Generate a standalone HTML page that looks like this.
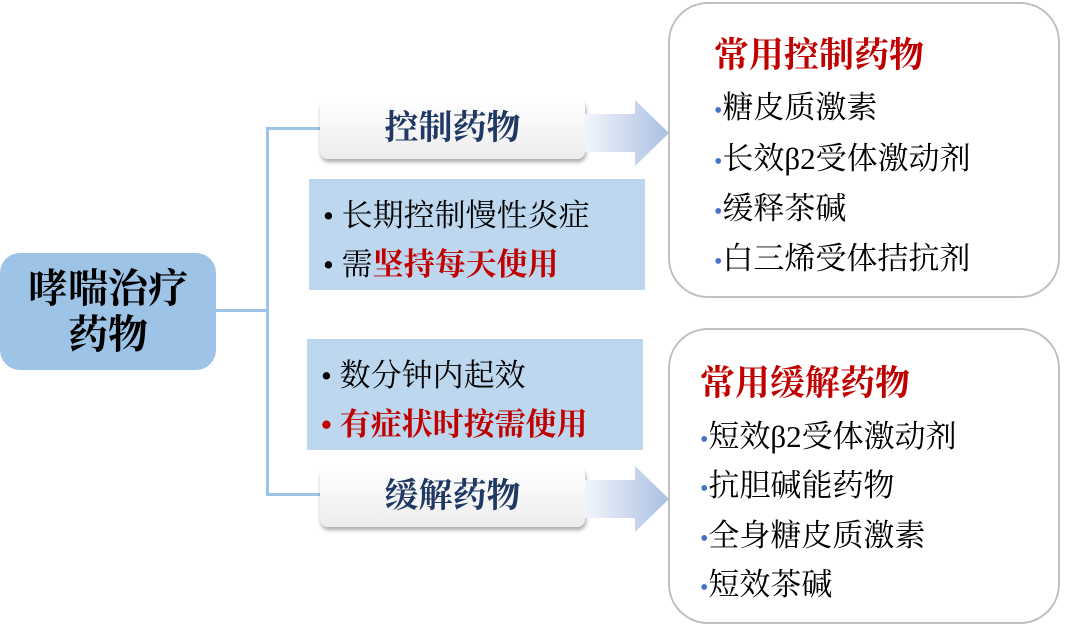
<!DOCTYPE html>
<html><head><meta charset="utf-8"><style>
body{margin:0;width:1068px;height:626px;background:#fff;position:relative;overflow:hidden;font-family:"Liberation Serif","Noto Serif CJK SC",serif;}
.a{position:absolute;}
.root{left:0;top:253px;width:216px;height:117px;background:#9dc3e6;border-radius:20px;color:#000;font-weight:bold;font-size:40px;line-height:46px;text-align:center;display:flex;align-items:center;justify-content:center;}
.ln{background:#9dc3e6;}
.btn{width:265px;height:60px;border-radius:8px;background:linear-gradient(#fff,#ececec);box-shadow:1px 3px 4px rgba(0,0,0,.35);color:#1f3864;font-weight:bold;font-size:34px;text-align:center;line-height:60px;}
.bl{background:#bdd7ee;width:336px;height:111px;font-size:31px;}
.bl div{position:absolute;left:14px;white-space:nowrap;line-height:36px;}
.r{color:#c00000;}
.card{left:668px;width:388px;height:292px;border:2px solid #bfbfbf;border-radius:40px;font-size:31px;}
.card div{position:absolute;left:44px;white-space:nowrap;line-height:36px;}
.card .t{color:#c00000;font-weight:bold;font-size:35px;}
.dot{color:#4472c4;font-size:24px;}
</style></head><body>
<div class="a root">哮喘治疗<br>药物</div>
<div class="a ln" style="left:216px;top:309px;width:53px;height:3px"></div>
<div class="a ln" style="left:266px;top:127px;width:3px;height:369px"></div>
<div class="a ln" style="left:266px;top:127px;width:56px;height:3px"></div>
<div class="a ln" style="left:266px;top:493px;width:56px;height:3px"></div>
<div class="a btn" style="left:320px;top:99px">控制药物</div>
<div class="a btn" style="left:320px;top:467px">缓解药物</div>
<svg class="a" style="left:585px;top:98px" width="86" height="70"><defs><linearGradient id="g"><stop offset="0" stop-color="#f2f5fb"/><stop offset="1" stop-color="#aabfe3"/></linearGradient></defs><polygon points="0,16 50,16 50,2 84,35 50,68 50,54 0,54" fill="url(#g)"/></svg>
<svg class="a" style="left:585px;top:464px" width="86" height="70"><polygon points="0,16 50,16 50,2 84,35 50,68 50,54 0,54" fill="url(#g)"/></svg>
<div class="a bl" style="left:309px;top:179px"><div style="top:19px">• 长期控制慢性炎症</div><div style="top:68px">• 需<span class="r" style="font-weight:bold">坚持每天使用</span></div></div>
<div class="a bl" style="left:307px;top:339px"><div style="top:19px">• 数分钟内起效</div><div class="r" style="top:68px;font-weight:bold">• 有症状时按需使用</div></div>
<div class="a card" style="top:2px">
<div class="t" style="top:34px">常用控制药物</div>
<div style="top:86px;left:44px"><span class="dot">•</span>糖皮质激素</div>
<div style="top:137px"><span class="dot">•</span>长效β2受体激动剂</div>
<div style="top:187px"><span class="dot">•</span>缓释茶碱</div>
<div style="top:237px"><span class="dot">•</span>白三烯受体拮抗剂</div>
</div>
<div class="a card" style="top:328px">
<div class="t" style="top:36px;left:30px">常用缓解药物</div>
<div style="top:89px;left:30px"><span class="dot">•</span>短效β2受体激动剂</div>
<div style="top:138px;left:30px"><span class="dot">•</span>抗胆碱能药物</div>
<div style="top:188px;left:30px"><span class="dot">•</span>全身糖皮质激素</div>
<div style="top:237px;left:30px"><span class="dot">•</span>短效茶碱</div>
</div>
</body></html>
